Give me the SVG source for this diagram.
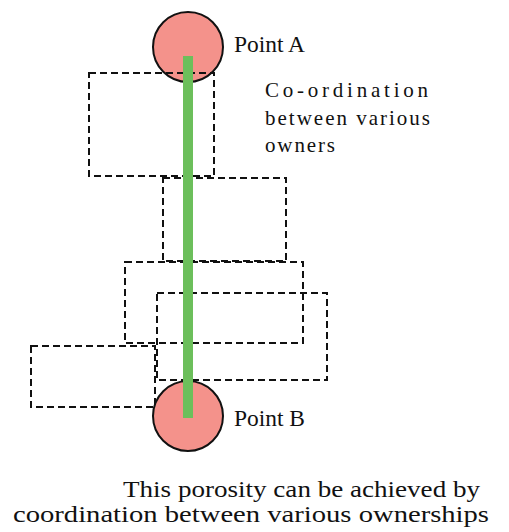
<svg xmlns="http://www.w3.org/2000/svg" width="509" height="532" viewBox="0 0 509 532">
<style>
.pt{fill:#f4928b;stroke:#111;stroke-width:2}
.own{fill:none;stroke:#111;stroke-width:2;stroke-dasharray:7 4}
text{font-family:"Times New Roman",Times,"Liberation Serif",Tinos,FreeSerif,"Nimbus Roman","Nimbus Roman No9 L","DejaVu Serif",serif;fill:#111}
.lnk{stroke:#6cbf5b;stroke-width:10;fill:none}
</style>
<rect width="509" height="532" fill="#fff"/>
<g id="pointA"><circle class="pt" cx="188" cy="47" r="35"/><text x="234" y="52" font-size="23" textLength="71" lengthAdjust="spacingAndGlyphs">Point A</text></g>
<g id="pointB"><circle class="pt" cx="188" cy="416" r="35"/><text x="234" y="426" font-size="23" textLength="71" lengthAdjust="spacingAndGlyphs">Point B</text></g>
<g id="owner1"><rect class="own" x="89" y="73" width="125" height="103"/></g>
<g id="owner2"><rect class="own" x="163" y="178" width="123" height="83"/></g>
<g id="owner3"><rect class="own" x="125" y="262" width="178" height="81"/></g>
<g id="owner4"><rect class="own" x="157" y="293" width="170" height="87"/></g>
<g id="owner5"><rect class="own" x="31" y="346" width="124" height="61"/></g>
<g id="connectors"><line class="lnk" x1="188" y1="56" x2="188" y2="418"/></g>
<g id="note">
<text x="265" y="97" font-size="21" textLength="163" lengthAdjust="spacing">Co-ordination</text>
<text x="265" y="125" font-size="21" textLength="165" lengthAdjust="spacing">between various</text>
<text x="265" y="152" font-size="21" textLength="70" lengthAdjust="spacing">owners</text>
</g>
<g id="caption">
<text x="123" y="497" font-size="24" textLength="357" lengthAdjust="spacingAndGlyphs">This porosity can be achieved by</text>
<text x="13" y="522" font-size="24" textLength="476" lengthAdjust="spacingAndGlyphs">coordination between various ownerships</text>
</g>
</svg>
